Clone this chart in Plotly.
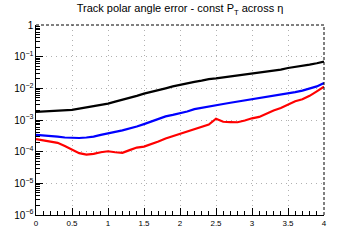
import plotly.graph_objects as go

eta = [round(0.1 * i, 1) for i in range(41)]

err_black = [1.8e-3, 1.85e-3, 1.9e-3, 1.95e-3, 2.0e-3, 2.1e-3, 2.3e-3, 2.5e-3, 2.7e-3, 2.9e-3,
             3.3e-3, 3.8e-3, 4.3e-3, 5.0e-3, 5.8e-3, 6.8e-3, 7.6e-3, 8.7e-3, 1.0e-2, 1.15e-2,
             1.3e-2, 1.45e-2, 1.6e-2, 1.75e-2, 1.95e-2, 2.05e-2, 2.2e-2, 2.35e-2, 2.5e-2, 2.7e-2,
             2.9e-2, 3.1e-2, 3.3e-2, 3.6e-2, 3.9e-2, 4.4e-2, 4.7e-2, 5.1e-2, 5.6e-2, 6.2e-2, 7.0e-2]

err_blue = [3.4e-4, 3.3e-4, 3.2e-4, 3.0e-4, 2.8e-4, 2.7e-4, 2.7e-4, 2.8e-4, 3.0e-4, 3.4e-4,
            3.7e-4, 4.2e-4, 4.7e-4, 5.3e-4, 6.2e-4, 7.4e-4, 8.8e-4, 1.08e-3, 1.3e-3, 1.45e-3,
            1.6e-3, 1.85e-3, 2.2e-3, 2.45e-3, 2.7e-3, 2.95e-3, 3.2e-3, 3.5e-3, 3.8e-3, 4.1e-3,
            4.4e-3, 4.8e-3, 5.3e-3, 5.8e-3, 6.3e-3, 6.8e-3, 7.6e-3, 8.5e-3, 9.7e-3, 1.15e-2, 1.47e-2]

err_red = [2.5e-4, 2.3e-4, 2.1e-4, 1.9e-4, 1.5e-4, 1.15e-4, 9.0e-5, 8.1e-5, 8.5e-5, 9.6e-5,
           1.03e-4, 9.6e-5, 9.2e-5, 1.12e-4, 1.35e-4, 1.45e-4, 1.7e-4, 2.1e-4, 2.6e-4, 3.1e-4,
           3.65e-4, 4.3e-4, 5.3e-4, 6.0e-4, 7.2e-4, 1.1e-3, 8.8e-4, 8.6e-4, 8.5e-4, 9.6e-4,
           1.13e-3, 1.25e-3, 1.6e-3, 2.0e-3, 2.4e-3, 3.1e-3, 3.9e-3, 4.5e-3, 5.8e-3, 8.0e-3, 1.12e-2]

series = [("black", err_black), ("#0000ff", err_blue), ("#ff0000", err_red)]

fig = go.Figure()
for color, vals in series:
    fig.add_trace(go.Scatter(x=eta, y=vals, mode="lines",
                             line=dict(color=color, width=2.2), showlegend=False))

font = "Liberation Sans, Arial, sans-serif"
fig.update_layout(
    width=360, height=240,
    margin=dict(l=36, r=36, t=25, b=23),
    paper_bgcolor="white", plot_bgcolor="white",
    font=dict(family=font, size=8, color="black"),
    title=dict(text="Track polar angle error - const P<sub>T</sub> across η",
               x=0.5, xanchor="center", y=0.965, yanchor="middle",
               font=dict(family=font, size=11, color="black")),
    xaxis=dict(range=[0, 4], dtick=0.5, tick0=0, ticks="inside", ticklen=7,
               tickcolor="black", showline=True, linecolor="black", linewidth=1,
               showgrid=True, gridcolor="#b0b0b0", griddash="1px,4px", gridwidth=1,
               zeroline=False, tickfont=dict(size=8),
               minor=dict(dtick=0.1, ticks="inside", ticklen=4, tickcolor="black", showgrid=False)),
    yaxis=dict(type="log", range=[-6, 0], dtick=1, exponentformat="power",
               ticks="inside", ticklen=7, tickcolor="black",
               showline=True, linecolor="black", linewidth=1,
               showgrid=True, gridcolor="#b0b0b0", griddash="1px,4px", gridwidth=1,
               zeroline=False, tickfont=dict(size=8),
               minor=dict(dtick="D1", ticks="inside", ticklen=4, tickcolor="black", showgrid=False)),
    shapes=[
        dict(type="line", xref="paper", yref="paper", x0=0, x1=1, y0=1, y1=1,
             line=dict(color="black", width=1, dash="3px,2px")),
        dict(type="line", xref="paper", yref="paper", x0=1, x1=1, y0=0, y1=1,
             line=dict(color="black", width=1, dash="3px,2px")),
    ],
)

fig.write_html("out.html")
